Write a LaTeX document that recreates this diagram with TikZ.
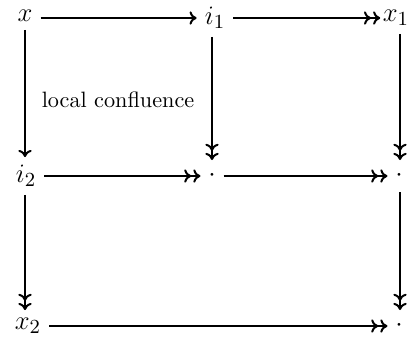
\documentclass[tikz,border=0pt]{standalone}
\usetikzlibrary{arrows.meta}
\begin{document}
\begin{tikzpicture}[x=0.45pt,y=-0.45pt,
  obj/.style={inner sep=3.5pt,font=\fontsize{13}{15}\selectfont},
  pt/.style={inner sep=0pt,minimum width=10pt,minimum height=14pt,font=\fontsize{13}{15}\selectfont},
  tip/.style={},
  arr/.style={line width=0.9pt,-{To[length=3.2pt,width=6pt]}},
  darr/.style={line width=0.9pt,-{To[length=3.2pt,width=6pt,sep=0.9pt] To[length=3.2pt,width=6pt]}}]
\useasboundingbox (0,0) rectangle (409,340);
\coordinate (cA) at (25,0);
\coordinate (cB) at (212,0);
\coordinate (cC) at (400,0);
\coordinate (rA) at (0,18);
\coordinate (rB) at (0,176);
\coordinate (rC) at (0,326);
\node[obj] (x) at (25,16) {$x$};
\node[obj] (i1) at (215,18) {$i_1$};
\node[obj,inner xsep=1pt] (x1) at (396,18) {$x_1$};
\node[obj] (i2) at (26,176) {$i_2$};
\node[pt] (m) at (212,176) {$\cdot$};
\node[pt] (r) at (399,176) {$\cdot$};
\node[obj] (x2) at (28,326) {$x_2$};
\node[pt] (b) at (399,326) {$\cdot$};
\node (lc) at (118,100) {local confluence};
\draw[arr] (x.east|-rA) -- (i1.west|-rA);
\draw[darr] (i1.east|-rA) -- (x1.west|-rA);
\draw[arr] (x.south-|cA) -- (i2.north-|cA);
\draw[darr] (i1.south-|cB) -- (m.north-|cB);
\draw[darr] (x1.south-|cC) -- (r.north-|cC);
\draw[darr] (i2.east|-rB) -- (m.west|-rB);
\draw[darr] (m.east|-rB) -- (r.west|-rB);
\draw[darr] (i2.south-|cA) -- (x2.north-|cA);
\draw[darr] (r.south-|cC) -- (b.north-|cC);
\draw[darr] (x2.east|-rC) -- (b.west|-rC);
\end{tikzpicture}
\end{document}
